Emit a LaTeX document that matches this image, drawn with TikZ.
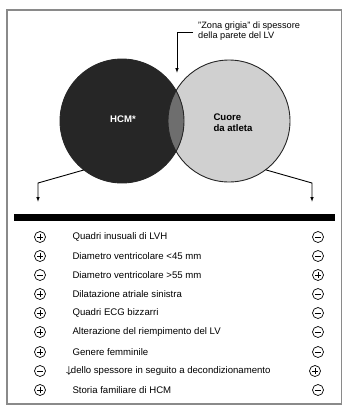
\documentclass[tikz,border=0pt]{standalone}
\usepackage{amsmath}
\usepackage{fontspec}
\setmainfont{Liberation Sans}
\usepackage{tikz}
\usetikzlibrary{arrows.meta,positioning,calc}

\definecolor{hcmgray}{HTML}{262626}
\definecolor{athgray}{HTML}{D0D0D0}
\definecolor{zonegray}{HTML}{6E6E6E}
\definecolor{framegray}{HTML}{8A8A8A}

\tikzset{
  signbox/.style={circle,draw,line width=0.7pt,inner sep=0pt,minimum size=11pt},
  plussign/.style={signbox,path picture={
      \draw[line width=0.7pt] ([xshift=2.3pt]path picture bounding box.west)
        -- ([xshift=-2.3pt]path picture bounding box.east);
      \draw[line width=0.7pt] ([yshift=-2.3pt]path picture bounding box.north)
        -- ([yshift=2.3pt]path picture bounding box.south);}},
  minussign/.style={signbox,path picture={
      \draw[line width=0.7pt] ([xshift=2.3pt]path picture bounding box.west)
        -- ([xshift=-2.3pt]path picture bounding box.east);}},
  item/.style={anchor=west,font=\fontsize{9.6}{11}\selectfont},
  zonatext/.style={anchor=base west,inner sep=0pt,font=\fontsize{9.2}{10}\selectfont},
  leader/.style={line width=0.9pt,-{Latex[length=5pt,width=3.6pt]}}
}

\begin{document}
\begin{tikzpicture}[x=1pt,y=-1pt]
    \useasboundingbox (0,0) rectangle (342,410);
    \draw[framegray,line width=1.2pt] (7,10) rectangle (341.5,404);
    % the two sets
    \fill[athgray] (229,121) circle (61);
    \fill[hcmgray] (122,121) circle (62);
    \begin{scope}
      \clip (122,121) circle (62);
      \fill[zonegray] (229,121) circle (61);
    \end{scope}
    \draw[hcmgray,line width=0.9pt] (229,121) circle (61);
    \draw[hcmgray,line width=0.9pt] (122,121) circle (62);
    \node[circle,inner sep=0pt,minimum size=124pt] (hcm) at (122,121) {};
    \node[circle,inner sep=0pt,minimum size=122pt] (atleta) at (229,121) {};
    \node[white,font=\bfseries\fontsize{9.6}{11}\selectfont] (hcmlab) at (123,119) {HCM*};
    \node[anchor=west,align=left,font=\bfseries\fontsize{9.6}{11}\selectfont] (atllab)
      at (210,123) {Cuore\\da atleta};
    % grey zone label
    \node[zonatext] (zona) at (198,28) {"Zona grigia" di spessore};
    \node[zonatext] (zona2) at (198,38) {della parete del LV};
    \coordinate (zonastart) at (193,32);
    \coordinate (zonaend) at (177,73);
    \draw[leader] (zonastart) -| (zonaend);
    % arrows down to the table
    \coordinate (leftend) at (38,202);
    \coordinate (rightend) at (312,202);
    \draw[leader] (hcm.232) -- (38,183) -- (leftend);
    \draw[leader] (atleta.307) -- (312,183) -- (rightend);
    \fill[black] (14,214) rectangle (335,221);
    % criteria
    \node[plussign] (l1) at (40,237) {};
    \node[item] (t1) at (69,237) {Quadri inusuali di LVH};
    \node[minussign] (r1) at (318,237) {};
    \node[plussign] (l2) at (40,256) {};
    \node[item] (t2) at (69,256) {Diametro ventricolare <45 mm};
    \node[minussign] (r2) at (318,256) {};
    \node[minussign] (l3) at (40,275) {};
    \node[item] (t3) at (69,275) {Diametro ventricolare >55 mm};
    \node[plussign] (r3) at (318,275) {};
    \node[plussign] (l4) at (40,294) {};
    \node[item] (t4) at (69,294) {Dilatazione atriale sinistra};
    \node[minussign] (r4) at (318,294) {};
    \node[plussign] (l5) at (40,313) {};
    \node[item] (t5) at (69,313) {Quadri ECG bizzarri};
    \node[minussign] (r5) at (318,313) {};
    \node[plussign] (l6) at (40,332) {};
    \node[item] (t6) at (69,332) {Alterazione del riempimento del LV};
    \node[minussign] (r6) at (318,332) {};
    \node[plussign] (l7) at (40,352) {};
    \node[item] (t7) at (69,352) {Genere femminile};
    \node[minussign] (r7) at (318,352) {};
    \node[minussign] (l8) at (40,371) {};
    \node[item,inner sep=1pt] (t8) at (65,371) {$\boldsymbol{\downarrow}$\hspace{-1pt}dello spessore in seguito a decondizionamento};
    \node[plussign] (r8) at (315,371) {};
    \node[plussign] (l9) at (40,390) {};
    \node[item] (t9) at (69,390) {Storia familiare di HCM};
    \node[minussign] (r9) at (318,390) {};
  \end{tikzpicture}
\end{document}
